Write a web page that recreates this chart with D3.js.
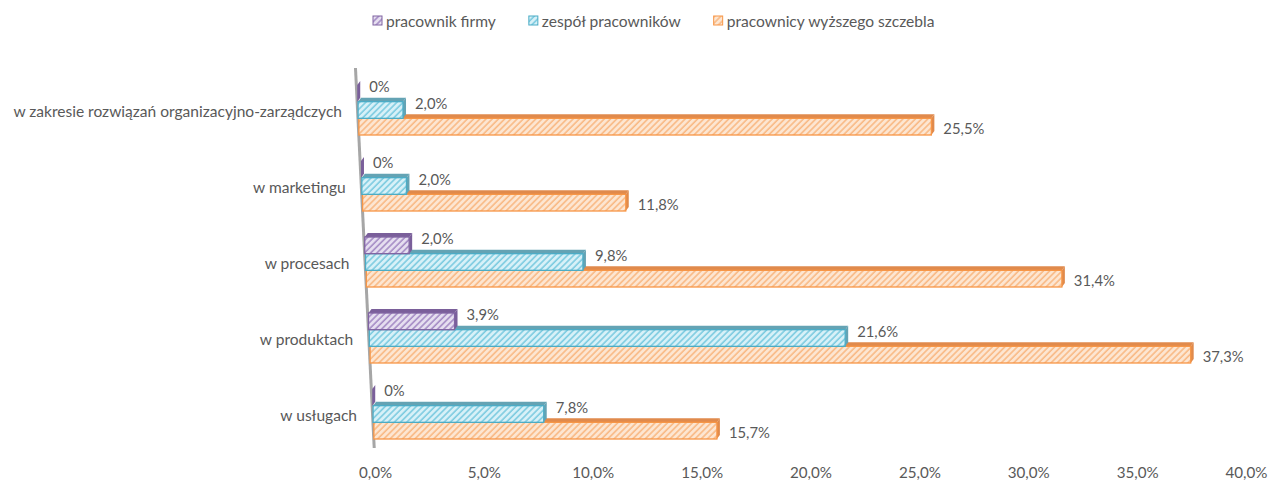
<!DOCTYPE html>
<html>
<head>
<meta charset="utf-8">
<script src="https://cdn.jsdelivr.net/npm/d3@7"></script>
<style>
  body { margin: 0; background: #fff; }
  text { font-family: Lato, "Open Sans", sans-serif; fill: #595959; }
</style>
</head>
<body>
<div id="chart"></div>
<script>
// data (percent)
const categories = [
  "w zakresie rozwiązań organizacyjno-zarządczych",
  "w marketingu",
  "w procesach",
  "w produktach",
  "w usługach"
];
const seriesNames = ["pracownik firmy", "zespół pracowników", "pracownicy wyższego szczebla"];
const pracownikFirmy = [0, 0, 2.0, 3.9, 0];
const zespolPracownikow = [2.0, 2.0, 9.8, 21.6, 7.8];
const pracownicyWyzszego = [25.5, 11.8, 31.4, 37.3, 15.7];
const tickValues = [0, 5, 10, 15, 20, 25, 30, 35, 40];

const seriesValues = [pracownikFirmy, zespolPracownikow, pracownicyWyzszego];

// colours
const lineColors = ["#8064a2", "#4bacc6", "#f79646"];
const lightColors = ["#e6dff0", "#d8f1f8", "#fde6d2"];
const hatchColors = ["#a48bc5", "#7ccbe0", "#f9b984"];
const topColors = ["#7a5f9a", "#64a3b4", "#e08a4c"];

const width = 1268, height = 480;
const depth = 3; // 3d offset of bars

const svg = d3.select("#chart")
  .append("svg")
  .attr("width", width)
  .attr("height", height);

// pick a font size so a string gets a given width
function fitSize(str, target) {
  const t = svg.append("text").attr("font-size", 20).text(str);
  const w = t.node().getComputedTextLength();
  t.remove();
  return 20 * target / w;
}
const catSize = fitSize(categories[0], 329);
const legendSize = fitSize(seriesNames[0], 110);
const labelSize = fitSize("37,3%", 41);
const axisSize = fitSize("40,0%", 42);

// hatch patterns
const defs = svg.append("defs");
seriesNames.forEach((s, i) => {
  const p = defs.append("pattern")
    .attr("id", "hatch" + i)
    .attr("patternUnits", "userSpaceOnUse")
    .attr("width", 4.4)
    .attr("height", 4.4)
    .attr("patternTransform", "rotate(45)");
  p.append("rect").attr("width", 4.4).attr("height", 4.4).attr("fill", lightColors[i]);
  p.append("line")
    .attr("x1", 1).attr("y1", 0).attr("x2", 1).attr("y2", 4.4)
    .attr("stroke", hatchColors[i])
    .attr("stroke-width", 1.6);
});

// scales
const yScale = d3.scaleBand().domain(categories).range([71, 451]);
const inner = d3.scaleBand().domain(seriesNames).range([-24, 26]);
// perspective: base of bars and length per unit change with height
const baseX = d3.scaleLinear().domain([109, 413]).range([358, 373]);
const unitX = d3.scaleLinear().domain([127, 430]).range([22.45, 21.85]);
function rowScale(yc) {
  const b = baseX(yc);
  return d3.scaleLinear().domain([0, 40]).range([b, b + 40 * unitX(yc)]);
}

// slanted wall line
svg.append("line")
  .attr("x1", baseX(68) - 0.5).attr("y1", 68)
  .attr("x2", baseX(448) - 0.5).attr("y2", 448)
  .attr("stroke", "#a6a6a6")
  .attr("stroke-width", 3);

const fmt = v => v === 0 ? "0%" : v.toFixed(1).replace(".", ",") + "%";

// bars, drawn bottom series first so upper bars cover lower top faces
categories.forEach((cat, ci) => {
  const c = yScale(cat) + yScale.bandwidth() / 2;
  const g = svg.append("g");
  for (let si = seriesNames.length - 1; si >= 0; si--) {
    const v = seriesValues[si][ci];
    const t = c + inner(seriesNames[si]);
    const h = inner.bandwidth();
    const yc = t + h / 2;
    const xs = rowScale(yc);
    const x0 = xs(0), x1 = xs(v);

    g.append("polygon")
      .attr("points", [[x0, t], [x0 + depth, t - 4], [x1 + depth, t - 4], [x1, t]].join(" "))
      .attr("fill", topColors[si]);
    g.append("polygon")
      .attr("points", [[x1, t], [x1 + depth, t - 4], [x1 + depth, t + h - 4], [x1, t + h]].join(" "))
      .attr("fill", topColors[si]);
    g.append("rect")
      .attr("x", x0)
      .attr("y", t)
      .attr("width", x1 - x0)
      .attr("height", h)
      .attr("fill", "url(#hatch" + si + ")")
      .attr("stroke", lineColors[si])
      .attr("stroke-width", 1.3);
  }
  // value labels
  seriesNames.forEach((s, si) => {
    const v = seriesValues[si][ci];
    const t = c + inner(s);
    const yc = t + inner.bandwidth() / 2;
    const xs = rowScale(yc);
    svg.append("text")
      .attr("x", xs(v) + depth + 9)
      .attr("y", yc + (si < 2 ? -7 : 1))
      .attr("dominant-baseline", "central")
      .attr("font-size", labelSize)
      .text(fmt(v));
  });
  // category label
  svg.append("text")
    .attr("x", baseX(c) - 16)
    .attr("y", c + 2)
    .attr("text-anchor", "end")
    .attr("dominant-baseline", "central")
    .attr("font-size", catSize)
    .text(cat);
});

// bottom axis
const xAxisScale = d3.scaleLinear().domain([0, 40]).range([375, 1246]);
const axis = svg.append("g")
  .attr("transform", "translate(0,472)")
  .call(d3.axisBottom(xAxisScale)
    .tickValues(tickValues)
    .tickSize(0)
    .tickPadding(0)
    .tickFormat(d => d.toFixed(1).replace(".", ",") + "%"));
axis.select(".domain").remove();
axis.selectAll("text")
  .attr("dy", null)
  .attr("dominant-baseline", "central")
  .attr("font-size", axisSize)
  .attr("font-family", "Lato, 'Open Sans', sans-serif")
  .attr("fill", "#595959");

// legend
const legend = svg.append("g").attr("transform", "translate(373,20.5)");
let lx = 0;
seriesNames.forEach((s, i) => {
  legend.append("rect")
    .attr("x", lx).attr("y", -4.5)
    .attr("width", 9).attr("height", 9)
    .attr("fill", "url(#hatch" + i + ")")
    .attr("stroke", lineColors[i])
    .attr("stroke-width", 1);
  const txt = legend.append("text")
    .attr("x", lx + 13)
    .attr("y", 0)
    .attr("dominant-baseline", "central")
    .attr("font-size", legendSize)
    .text(s);
  lx += 13 + txt.node().getComputedTextLength() + 33;
});
</script>
</body>
</html>
